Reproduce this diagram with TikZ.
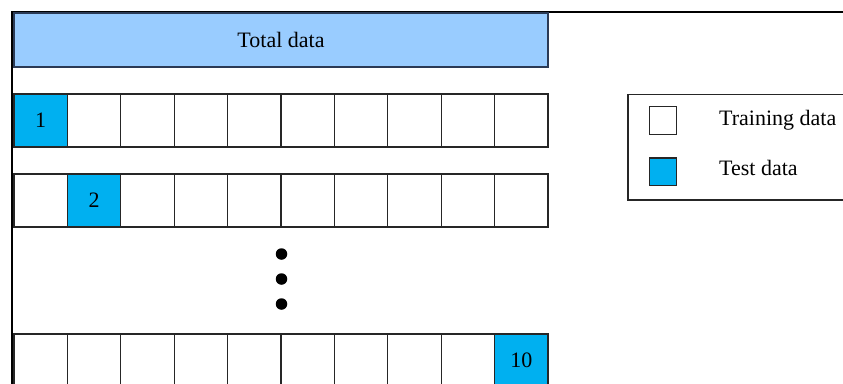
\documentclass[tikz,border=0pt]{standalone}
\usepackage{fontspec}
\setmainfont{Liberation Serif}
\definecolor{lightblue}{HTML}{99CCFF}
\definecolor{testcyan}{HTML}{00B0F0}
\definecolor{edgegray}{HTML}{262626}
\definecolor{boxedge}{HTML}{2B3A55}
\begin{document}
\begin{tikzpicture}[x=1pt,y=-1pt,
  txt/.style={font=\fontsize{22}{24}\selectfont, text height=14.5pt, text depth=0pt},
  cell/.style={draw=edgegray, line width=1.2pt, fill=white, minimum width=53.4pt, minimum height=53pt, inner sep=0pt, txt},
  testcell/.style={cell, fill=testcyan},
  totalbox/.style={draw=boxedge, line width=1.2pt, fill=lightblue, minimum width=534pt, minimum height=54pt, inner sep=0pt, txt},
  legbox/.style={draw=edgegray, line width=1.2pt, fill=white},
  legsq/.style={draw=edgegray, line width=1.2pt, minimum width=27.4pt, minimum height=27.4pt, inner sep=0pt},
  dot/.style={circle, fill=black, minimum size=11.5pt, inner sep=0pt},
  frameline/.style={line width=2pt, black}]
\useasboundingbox (0,0) rectangle (843,383);
\clip (0,0) rectangle (843,383);
% outer frame
\coordinate (fbl) at (11.5,390);
\coordinate (ftl) at (11.5,11.5);
\coordinate (ftr) at (850,11.5);
\draw[frameline] (fbl) -- (ftl) -- (ftr);
% total data
\node[totalbox] (total) at (281,40) {Total data};
% rows
\foreach \r/\y/\t in {1/120.5/1, 2/200.5/2, 3/360.5/10}{
  \foreach \c in {1,...,10}{
    \pgfmathsetmacro{\xx}{14+53.4*(\c-0.5)}
    \ifnum\c=\t
      \node[testcell] (r\r c\c) at (\xx,\y) {\t};
    \else
      \node[cell] (r\r c\c) at (\xx,\y) {};
    \fi
  }
}
% dots
\node[dot] (d1) at (281.5,254) {};
\node[dot] (d2) at (281.5,279) {};
\node[dot] (d3) at (281.5,304) {};
% legend
\draw[legbox] (628,94.3) rectangle (860,200);
\node[legsq, fill=white] (lsq1) at (663,120.4) {};
\node[legsq, fill=testcyan] (lsq2) at (663,171.7) {};
\node[txt, anchor=west, inner sep=0pt] (ltxt1) at (719,118.5) {Training data};
\node[txt, anchor=west, inner sep=0pt] (ltxt2) at (719,168) {Test data};
\end{tikzpicture}
\end{document}
